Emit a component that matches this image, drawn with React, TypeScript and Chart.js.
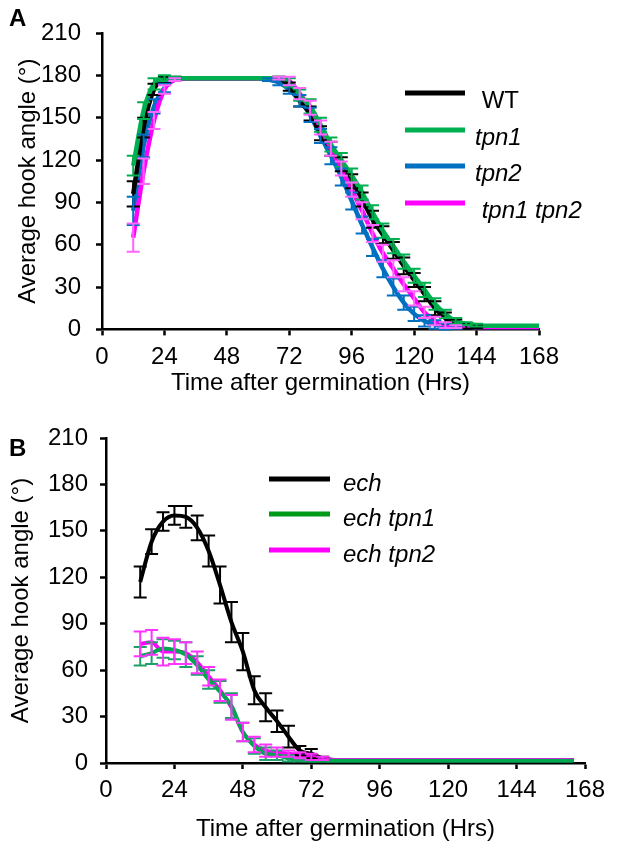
import React, { useEffect, useRef } from "react";
import { Chart, registerables } from "chart.js";

Chart.register(...registerables);

const FONT = "'Liberation Sans', Arial, sans-serif";
const FS = 24;

// ---------- Panel A data ----------
const timesA = [12, 16, 20, 24, 28, 32, 36, 40, 44, 48, 52, 56, 60, 64, 68, 72, 76, 80, 84, 88, 92, 96, 100, 104, 108, 112, 116, 120, 124, 128, 132, 136, 140, 144, 148, 152, 156, 160, 164, 168];
const wtA = [96, 143, 170, 177, 178, 178, 178, 178, 178, 178, 178, 178, 178, 178, 178, 172, 162, 153, 139, 128, 117, 105, 92, 78, 67, 56, 45, 35, 25, 15, 8, 4, 2.5, 2, 2, 2, 2, 2, 2, 2];
const wtErrA = [9, 7, 4, 2, 1, 0, 0, 0, 0, 0, 0, 0, 0, 0, 1, 3, 4, 5, 5, 5, 5, 5, 5, 6, 6, 6, 6, 5, 5, 5, 4, 3, 2, 1, 0, 0, 0, 0, 0, 0];
const tpn1A = [116, 155, 174, 178, 178, 178, 178, 178, 178, 178, 178, 178, 178, 178, 178, 175, 166, 158, 145, 131, 120, 109, 97, 83, 70, 59, 48, 38, 28, 18, 11, 6, 4, 3, 2.5, 2.5, 2.5, 2.5, 2.5, 2.5];
const tpn1ErrA = [7, 6, 4, 2, 1, 0, 0, 0, 0, 0, 0, 0, 0, 0, 1, 3, 4, 5, 5, 5, 5, 5, 5, 5, 5, 5, 5, 5, 5, 4, 3, 2, 1, 1, 0, 0, 0, 0, 0, 0];
const tpn2A = [84, 130, 158, 171, 177, 178, 178, 178, 178, 178, 178, 178, 178, 177, 175, 170, 162, 152, 137, 123, 108, 91, 74, 58, 43, 30, 19, 11, 6, 3.5, 2, 1.5, 1.5, 1.5, 1.5, 1.5, 1.5, 1.5, 1.5, 1.5];
const tpn2ErrA = [10, 8, 5, 3, 1, 0, 0, 0, 0, 0, 0, 0, 0, 1, 2, 3, 4, 5, 5, 6, 6, 6, 6, 6, 6, 6, 5, 5, 4, 3, 2, 1, 0, 0, 0, 0, 0, 0, 0, 0];
const dblA = [65, 112, 148, 170, 177, 178, 178, 178, 178, 178, 178, 178, 178, 178, 178, 176, 167, 157, 143, 128, 114, 99, 84, 68, 54, 43, 32, 22, 12, 6, 3, 2, 1.5, 1.5, 1.5, 1.5, 1.5, 1.5, 1.5, 1.5];
const dblErrA = [10, 9, 6, 3, 1, 0, 0, 0, 0, 0, 0, 0, 0, 0, 1, 3, 4, 5, 5, 5, 5, 5, 6, 6, 6, 6, 5, 5, 4, 3, 2, 1, 0, 0, 0, 0, 0, 0, 0, 0];
const namesA = [" WT", "tpn1", "tpn2", " tpn1 tpn2"];

// ---------- Panel B data ----------
const timesB = [12, 16, 20, 24, 28, 32, 36, 40, 44, 48, 52, 56, 60, 64, 68, 72, 76, 80, 84, 88, 92, 96, 100, 104, 108, 112, 116, 120, 124, 128, 132, 136, 140, 144, 148, 152, 156, 160, 164];
const echB = [117, 143, 156, 160, 159, 152, 137, 115, 91, 72, 47, 36, 27, 17, 8, 6, 3, 2, 2, 2, 2, 2, 2, 2, 2, 2, 2, 2, 2, 2, 2, 2, 2, 2, 2, 2, 2, 2, 2];
const echErrB = [10, 8, 6, 6, 7, 8, 10, 12, 13, 12, 9, 9, 7, 7, 3, 3, 1, 0, 0, 0, 0, 0, 0, 0, 0, 0, 0, 0, 0, 0, 0, 0, 0, 0, 0, 0, 0, 0, 0];
const echTpn1B = [69, 71, 74, 73, 70, 63, 54, 46, 37, 20, 11, 6, 5, 3, 2, 1.5, 1.5, 1.5, 1.5, 1.5, 1.5, 1.5, 1.5, 1.5, 1.5, 1.5, 1.5, 1.5, 1.5, 1.5, 1.5, 1.5, 1.5, 1.5, 1.5, 1.5, 1.5, 1.5, 1.5];
const echTpn1ErrB = [6, 7, 6, 6, 8, 6, 6, 7, 8, 6, 5, 4, 3, 2, 1, 0, 0, 0, 0, 0, 0, 0, 0, 0, 0, 0, 0, 0, 0, 0, 0, 0, 0, 0, 0, 0, 0, 0, 0];
const echTpn2B = [77, 78, 72, 72, 71, 65, 56, 47, 36, 20, 12, 8, 7, 6, 5, 4, 3, 2, 2, 2, 2, 2, 2, 2, 2, 2, 2, 2, 2, 2, 2, 2, 2, 2, 2, 2, 2, 2, 2];
const echTpn2ErrB = [8, 8, 9, 8, 7, 7, 6, 7, 8, 6, 5, 4, 3, 2, 2, 2, 1, 0, 0, 0, 0, 0, 0, 0, 0, 0, 0, 0, 0, 0, 0, 0, 0, 0, 0, 0, 0, 0, 0];
const namesB = ["ech", "ech tpn1", "ech tpn2"];

const xTicks = [0, 24, 48, 72, 96, 120, 144, 168];
const yTicks = [0, 30, 60, 90, 120, 150, 180, 210];

const toPoints = (xs: number[], ys: number[]) => xs.map((x, i) => ({ x, y: ys[i] }));

const errorBarPlugin = {
  id: "errorBars",
  afterDatasetsDraw(chart: any, _args: any, opts: any) {
    const { ctx } = chart;
    const yScale = chart.scales.y;
    chart.data.datasets.forEach((ds: any, di: number) => {
      if (!ds.errors) return;
      const meta = chart.getDatasetMeta(di);
      ctx.save();
      ctx.strokeStyle = ds.errorColor || ds.borderColor;
      ctx.lineWidth = opts.width;
      meta.data.forEach((pt: any, i: number) => {
        const e = ds.errors[i];
        if (!e) return;
        const v = ds.data[i].y;
        const x = pt.x;
        const yt = yScale.getPixelForValue(v + e);
        const yb = yScale.getPixelForValue(v - e);
        ctx.beginPath();
        ctx.moveTo(x, yt);
        ctx.lineTo(x, yb);
        ctx.moveTo(x - opts.cap, yt);
        ctx.lineTo(x + opts.cap, yt);
        ctx.moveTo(x - opts.cap, yb);
        ctx.lineTo(x + opts.cap, yb);
        ctx.stroke();
      });
      ctx.restore();
    });
  },
};

const lineLegendPlugin = {
  id: "lineLegend",
  afterDraw(chart: any, _args: any, opts: any) {
    const { ctx } = chart;
    ctx.save();
    chart.data.datasets.forEach((ds: any, i: number) => {
      const y = opts.ys[i];
      ctx.strokeStyle = ds.legendColor || ds.borderColor;
      ctx.lineWidth = opts.lineWidth;
      ctx.beginPath();
      ctx.moveTo(opts.x1, y);
      ctx.lineTo(opts.x2, y);
      ctx.stroke();
      ctx.fillStyle = "#000";
      ctx.font = `${opts.italic[i] ? "italic " : ""}${opts.fontSize}px ${FONT}`;
      ctx.textBaseline = "middle";
      ctx.textAlign = "left";
      ctx.fillText(ds.label, opts.textX, y + opts.textDy);
    });
    ctx.restore();
  },
};

function makeOptions(cfg: any) {
  const tickFont = { family: FONT, size: FS };
  return {
    animation: false,
    responsive: false,
    layout: { padding: cfg.padding },
    elements: { point: { radius: 0 } },
    plugins: {
      legend: { display: false },
      tooltip: { enabled: false },
      errorBars: { width: 2, cap: 6.5 },
      lineLegend: cfg.legend,
    },
    scales: {
      x: {
        type: "linear",
        min: 0,
        max: 168,
        afterBuildTicks: (s: any) => {
          s.ticks = xTicks.map((v) => ({ value: v }));
        },
        afterFit: (s: any) => {
          s.height = cfg.xHeight;
        },
        ticks: { font: tickFont, color: "#000", padding: cfg.xTickPad, maxRotation: 0, autoSkip: false },
        grid: { drawOnChartArea: false, drawTicks: true, tickLength: 6, tickWidth: 2.5, tickColor: "#000" },
        border: { color: "#000", width: 2.5 },
        title: { display: true, text: "Time after germination (Hrs)", font: tickFont, color: "#000", padding: { top: 0, bottom: 0 } },
      },
      y: {
        type: "linear",
        min: 0,
        max: 210,
        afterBuildTicks: (s: any) => {
          s.ticks = yTicks.map((v) => ({ value: v }));
        },
        afterFit: (s: any) => {
          s.width = cfg.yWidth;
        },
        ticks: { font: tickFont, color: "#000", padding: cfg.yTickPad, autoSkip: false },
        grid: { drawOnChartArea: false, drawTicks: true, tickLength: 6, tickWidth: 2.5, tickColor: "#000" },
        border: { color: "#000", width: 2.5 },
        title: { display: true, text: "Average hook angle (\u00b0)", font: tickFont, color: "#000", padding: { top: cfg.yTitlePad, bottom: 0 } },
      },
    },
  };
}

function ds(label: string, xs: number[], ys: number[], errs: number[], color: string, errColor: string, width: number, order: number) {
  return {
    label,
    data: toPoints(xs, ys),
    errors: errs,
    borderColor: color,
    errorColor: errColor,
    borderWidth: width,
    cubicInterpolationMode: "monotone",
    fill: false,
    order,
  };
}

function ChartCanvas({ config, width, height, top }: any) {
  const ref = useRef<HTMLCanvasElement | null>(null);
  useEffect(() => {
    if (!ref.current) return;
    const chart = new Chart(ref.current, config);
    return () => chart.destroy();
  }, []);
  return (
    <canvas
      ref={ref}
      width={width}
      height={height}
      style={{ position: "absolute", left: 0, top, width, height, display: "block" }}
    />
  );
}

export default function App() {
  const configA: any = {
    type: "line",
    data: {
      datasets: [
        ds(namesA[0], timesA, wtA, wtErrA, "#000000", "#000000", 4.5, 2),
        ds(namesA[1], timesA, tpn1A, tpn1ErrA, "#00B050", "#00B050", 4.5, 0),
        ds(namesA[2], timesA, tpn2A, tpn2ErrA, "#0070C0", "#0070C0", 4.5, 3),
        ds(namesA[3], timesA, dblA, dblErrA, "#FF00FF", "#FF66FF", 4.5, 1),
      ],
    },
    options: makeOptions({
      padding: { top: 33, right: 83, bottom: 2.6, left: 0 },
      xHeight: 68,
      yWidth: 102,
      xTickPad: 7.5,
      yTickPad: 15,
      yTitlePad: 13.5,
      legend: { x1: 405, x2: 465, ys: [93, 130, 166, 203], textX: 475, textDy: 8, fontSize: FS, lineWidth: 5, italic: [false, true, true, true] },
    }),
    plugins: [errorBarPlugin, lineLegendPlugin],
  };

  const configB: any = {
    type: "line",
    data: {
      datasets: [
        ds(namesB[0], timesB, echB, echErrB, "#000000", "#000000", 4, 2),
        ds(namesB[1], timesB, echTpn1B, echTpn1ErrB, "#00A650", "#1FA06A", 4, 0),
        ds(namesB[2], timesB, echTpn2B, echTpn2ErrB, "#FF00FF", "#FF33FF", 4, 1),
      ].map((d: any, i: number) => (i === 1 ? { ...d, legendColor: "#009A1A" } : d)),
    },
    options: makeOptions({
      padding: { top: 38, right: 37, bottom: 0.6, left: 0 },
      xHeight: 80.4,
      yWidth: 106,
      xTickPad: 7.3,
      yTickPad: 12,
      yTitlePad: 6.6,
      legend: { x1: 269, x2: 330, ys: [79, 114, 150], textX: 343, textDy: 5, fontSize: FS, lineWidth: 5, italic: [true, true, true] },
    }),
    plugins: [errorBarPlugin, lineLegendPlugin],
  };

  return (
    <div style={{ position: "absolute", left: 0, top: 0, width: 622, height: 844, background: "#fff", fontFamily: FONT }}>
      <ChartCanvas config={configA} width={622} height={400} top={0} />
      <ChartCanvas config={configB} width={622} height={444} top={400} />
      <div style={{ position: "absolute", left: 9, top: 4, fontWeight: "bold", fontSize: 24, lineHeight: "28px" }}>A</div>
      <div style={{ position: "absolute", left: 9, top: 434, fontWeight: "bold", fontSize: 24, lineHeight: "28px" }}>B</div>
    </div>
  );
}
